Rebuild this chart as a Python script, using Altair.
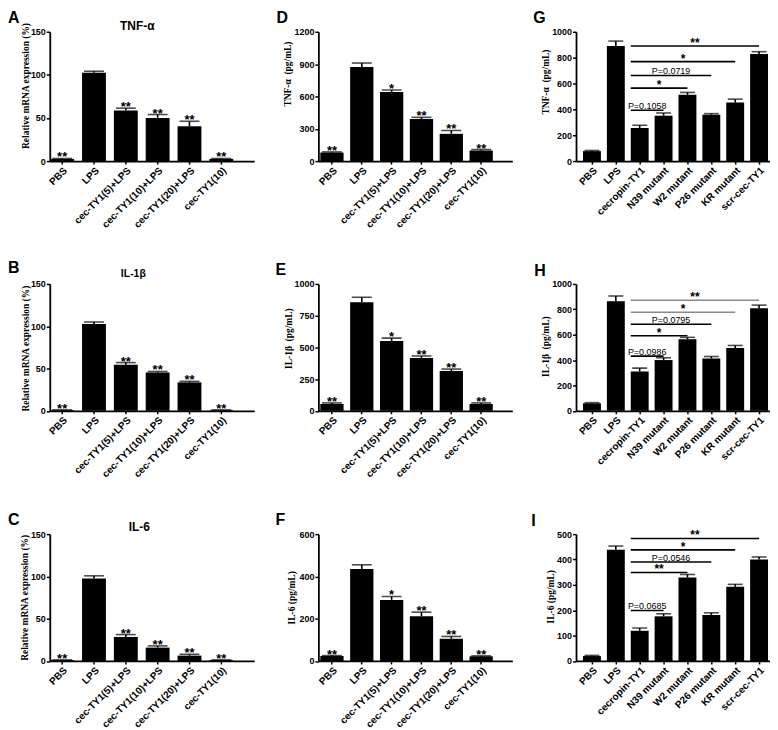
import altair as alt
import pandas as pd

SANS = "Liberation Sans"
NARROW = "Liberation Sans Narrow, Liberation Sans, sans-serif"
SERIF = "Liberation Serif"

# ---------------- data ----------------
groups6 = ["PBS", "LPS", "cec-TY1(5)+LPS", "cec-TY1(10)+LPS", "cec-TY1(20)+LPS", "cec-TY1(10)"]
groups8 = ["PBS", "LPS", "cecropin-TY1", "N39 mutant", "W2 mutant", "P26 mutant", "KR mutant", "scr-cec-TY1"]

a_mean = [2.5, 102.6, 58.7, 50.1, 40.4, 2.5]
a_err = [0.5, 1.6, 2.7, 3.9, 5.8, 0.5]
b_mean = [0.8, 102.7, 54.3, 45.3, 33.6, 0.8]
b_err = [0.3, 2.3, 2.7, 1.2, 1.2, 0.3]
c_mean = [1.0, 97.5, 28.4, 15.8, 6.3, 1.0]
c_err = [0.3, 3.2, 2.8, 2.0, 1.6, 0.3]

d_mean = [79, 873, 641, 391, 253, 98]
d_err = [6, 37, 19, 15, 31, 9]
e_mean = [54, 856, 550, 416, 314, 54]
e_err = [8, 39, 23, 16, 15, 8]
f_mean = [23.5, 435, 289, 212, 105, 22]
f_err = [2, 20, 16, 19, 11, 2]

g_mean = [77, 890, 256, 351, 513, 359, 454, 828]
g_err = [5, 38, 21, 21, 18, 8, 25, 18]
h_mean = [59, 864, 310, 400, 564, 413, 495, 808]
h_err = [5, 41, 26, 18, 15, 15, 20, 25]
i_mean = [19.4, 438, 119, 176, 329, 181, 293, 400]
i_err = [2.6, 15, 11, 10, 12, 9, 9, 10]

stars_mrna = ["**", "", "**", "**", "**", "**"]
stars_elisa = ["**", "", "*", "**", "**", "**"]

cmp_from = "cecropin-TY1"
cmp_targets = ["N39 mutant", "W2 mutant", "P26 mutant", "KR mutant", "scr-cec-TY1"]
g_cmp_y = [393, 564, 662, 769, 890]
g_cmp_lab = ["P=0.1058", "*", "P=0.0719", "*", "**"]
h_cmp_y = [431, 592, 682, 777, 872]
h_cmp_lab = ["P=0.0986", "*", "P=0.0795", "*", "**"]
i_cmp_y = [199, 349, 390, 438, 483]
i_cmp_lab = ["P=0.0685", "**", "P=0.0546", "*", "**"]

# ---------------- styling / layout ----------------
COLW = [205.5, 195, 195]
ROWH = [130, 127.5, 127.5]
BAND6A = dict(pi=0.25, po=0.336, al=0.02, capw=20)
BAND6B = dict(pi=0.22, po=0.36, al=0.09, capw=20)
BAND8 = dict(pi=0.25, po=0.1875, al=0.78, capw=15)
BLACK = "#000000"
GRAY = "#8a8a8a"
LW = 1.6


def panel(letter, groups, means, errs, stars, ymax, ystep, ytitle, tx, ty,
          width, height, band, lab_xy, title=None, title_xy=None, title_size=12,
          cmp_y=None, cmp_lab=None, cmp_col=None):
    df = pd.DataFrame({"g": groups, "m": means, "e": errs, "s": stars})
    base = alt.Chart(df).transform_calculate(top="datum.m + datum.e")
    xs = alt.Scale(domain=groups, paddingInner=band["pi"], paddingOuter=band["po"], align=band["al"])
    xaxis = alt.Axis(title=None, labelAngle=-45, labelFont=SANS, labelFontWeight="bold",
                     labelFontSize=10, tickSize=3, labelPadding=1)
    x = alt.X("g:N", scale=xs, axis=xaxis)
    ys = alt.Scale(domain=[0, ymax], nice=False, zero=True)
    yaxis = alt.Axis(title=ytitle, values=list(range(0, ymax + 1, ystep)), format="d", tickSize=3.5,
                     labelFont=NARROW, labelFontWeight="bold", labelFontSize=9, labelPadding=1,
                     titleFont=SERIF, titleFontWeight="bold", titleFontSize=9.5,
                     titleX=tx, titleY=ty, titleBaseline="alphabetic", titleAlign="center",
                     titleAngle=270)
    layers = [
        base.mark_bar(color=BLACK).encode(x=x, y=alt.Y("m:Q", scale=ys, axis=yaxis)),
        base.mark_rule(color=BLACK, strokeWidth=LW).encode(
            x=x, y=alt.Y("m:Q", scale=ys, axis=yaxis), y2="top:Q"),
        base.mark_tick(color=BLACK, thickness=LW, size=band["capw"]).encode(
            x=x, y=alt.Y("top:Q", scale=ys, axis=yaxis)),
        base.mark_text(font=SANS, fontWeight="bold", fontSize=13, baseline="alphabetic", dy=3).encode(
            x=x, y=alt.Y("top:Q", scale=ys, axis=yaxis), text="s:N"),
        alt.Chart(pd.DataFrame({"t": [letter]})).mark_text(
            align="left", baseline="top", font=SANS, fontSize=16, fontWeight="bold").encode(
            x=alt.value(lab_xy[0]), y=alt.value(lab_xy[1]), text="t:N"),
    ]
    if title is not None:
        layers.append(alt.Chart(pd.DataFrame({"t": [title]})).mark_text(
            align="center", baseline="alphabetic", font=SANS, fontSize=title_size,
            fontWeight="bold").encode(
            x=alt.value(title_xy[0]), y=alt.value(title_xy[1]), text="t:N"))
    if cmp_y is not None:
        n = len(groups)
        step = width / (n - band["pi"] + 2 * band["po"])
        bw = step * (1 - band["pi"])
        fi = groups.index(cmp_from)
        for tgt, yv, lab, col in zip(cmp_targets, cmp_y, cmp_lab, cmp_col):
            d = pd.DataFrame({"f": [cmp_from], "t": [tgt], "y": [yv], "lab": [lab]})
            xf = alt.X("f:N", scale=xs, axis=xaxis, bandPosition=0)
            yy = alt.Y("y:Q", scale=ys, axis=yaxis)
            layers.append(alt.Chart(d).mark_rule(color=col, strokeWidth=LW).encode(
                x=xf, x2="t:N", y=yy))
            dxv = ((groups.index(tgt) - fi) * step + bw / 2) / 2
            if lab.startswith("P"):
                txt = alt.Chart(d).mark_text(font=NARROW, fontSize=9, baseline="alphabetic",
                                             dx=dxv, dy=-1.5)
            else:
                txt = alt.Chart(d).mark_text(font=SANS, fontWeight="bold", fontSize=12,
                                             baseline="alphabetic", dx=dxv, dy=1)
            layers.append(txt.encode(x=xf, y=yy, text="lab:N"))
    return alt.layer(*layers).properties(width=width, height=height)


A = panel("A", groups6, a_mean, a_err, stars_mrna, 150, 50, "Relative mRNA expression (%)", -21.5, 54,
          COLW[0], ROWH[0], BAND6A, (-42, -22), title="TNF-α", title_xy=(88, -2))
B = panel("B", groups6, b_mean, b_err, stars_mrna, 150, 50, "Relative mRNA expression (%)", -21, 64.5,
          COLW[0], ROWH[1], BAND6A, (-42, -24), title="IL-1β", title_xy=(84, -6.5), title_size=10.5)
C = panel("C", groups6, c_mean, c_err, stars_mrna, 150, 50, "Relative mRNA expression (%)", -22, 63.5,
          COLW[0], ROWH[2], BAND6A, (-42, -22), title="IL-6", title_xy=(90, -3.5))

D = panel("D", groups6, d_mean, d_err, stars_elisa, 1200, 300, "TNF-α\u00a0\u00a0(pg/mL)", -28.5, 42,
          COLW[1], ROWH[0], BAND6B, (-42, -22))
E = panel("E", groups6, e_mean, e_err, stars_elisa, 1000, 250, "IL-1β\u00a0\u00a0(pg/mL)", -27.5, 54.5,
          COLW[1], ROWH[1], BAND6B, (-43, -22))
F = panel("F", groups6, f_mean, f_err, stars_elisa, 600, 200, "IL-6 (pg/mL)", -23.5, 63.5,
          COLW[1], ROWH[2], BAND6B, (-43, -22))

G = panel("G", groups8, g_mean, g_err, [""] * 8, 1000, 200, "TNF-α\u00a0\u00a0(pg/mL)", -27.5, 50,
          COLW[2], ROWH[0], BAND8, (-43, -22),
          cmp_y=g_cmp_y, cmp_lab=g_cmp_lab, cmp_col=[BLACK] * 5)
H = panel("H", groups8, h_mean, h_err, [""] * 8, 1000, 200, "IL-1β\u00a0\u00a0(pg/mL)", -27.5, 62.5,
          COLW[2], ROWH[1], BAND8, (-42, -21),
          cmp_y=h_cmp_y, cmp_lab=h_cmp_lab, cmp_col=[BLACK, BLACK, BLACK, GRAY, GRAY])
I = panel("I", groups8, i_mean, i_err, [""] * 8, 500, 100, "IL-6 (pg/mL)", -22.5, 62.5,
          COLW[2], ROWH[2], BAND8, (-45, -21),
          cmp_y=i_cmp_y, cmp_lab=i_cmp_lab, cmp_col=[BLACK] * 5)

chart = alt.concat(A, D, G, B, E, H, C, F, I, columns=3,
                   spacing={"row": 123.5, "column": 64}, bounds="flush", align="each").properties(
    padding=0, background="white")
chart = chart.configure_view(stroke=None).configure_axis(
    domainColor="black", tickColor="black", labelColor="black", titleColor="black",
    domainWidth=1.8, tickWidth=1.5, grid=False)

chart.save("out.html", embed_options={"renderer": "svg", "actions": False})
